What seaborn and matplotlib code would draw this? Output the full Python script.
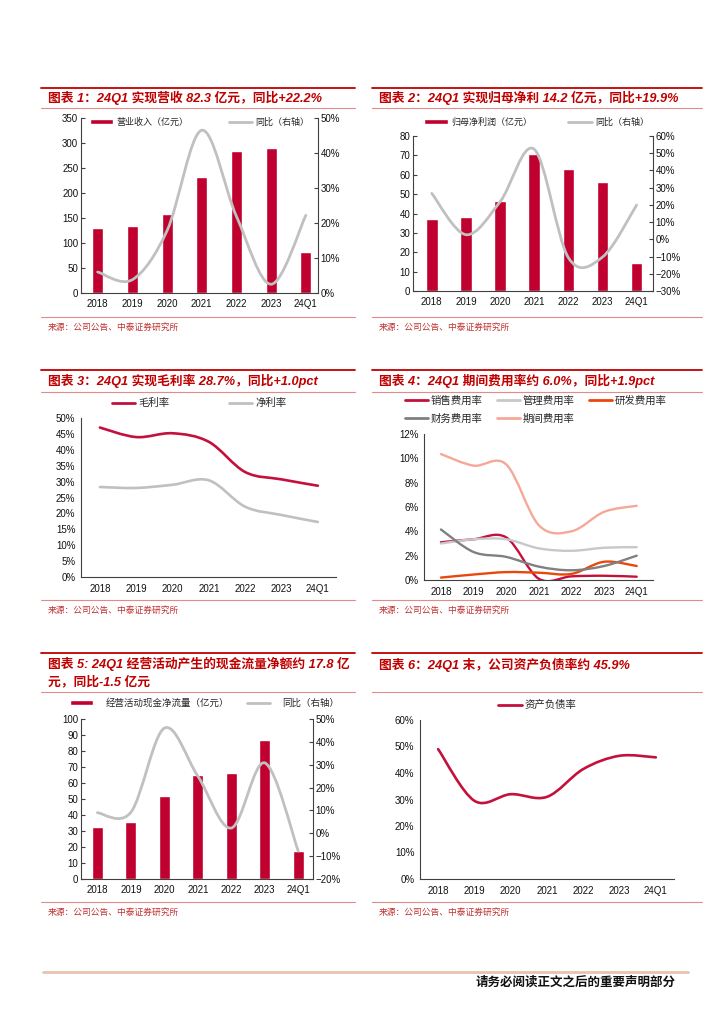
import numpy as np
import pandas as pd
import matplotlib
matplotlib.use("Agg")
import matplotlib.pyplot as plt
import seaborn as sns
from matplotlib.path import Path
from matplotlib.patches import PathPatch, Patch
from matplotlib.lines import Line2D
from matplotlib.ticker import MultipleLocator, FuncFormatter

# ---- data ----
years = ["2018", "2019", "2020", "2021", "2022", "2023", "24Q1"]

revenue = [130, 135, 159, 233, 284, 291, 82.3]
revenue_yoy = [6.0, 3.8, 17.8, 46.5, 21.9, 2.5, 22.2]

net_profit = [37.0, 38.0, 46.3, 70.5, 63.0, 56.5, 14.2]
net_profit_yoy = [26.7, 2.7, 21.8, 52.3, -10.6, -10.3, 19.9]

gross_margin = [47.0, 44.0, 45.2, 42.5, 33.0, 30.7, 28.7]
net_margin = [28.3, 28.0, 29.0, 30.4, 22.1, 19.5, 17.3]

sales_rate = [3.1, 3.35, 3.5, 0.1, 0.3, 0.35, 0.27]
admin_rate = [3.0, 3.35, 3.35, 2.6, 2.4, 2.65, 2.7]
rd_rate = [0.2, 0.45, 0.65, 0.6, 0.5, 1.5, 1.15]
fin_rate = [4.15, 2.3, 1.9, 1.1, 0.8, 1.15, 2.0]
period_rate = [10.35, 9.4, 9.5, 4.5, 4.0, 5.6, 6.1]

op_cashflow = [32.5, 35.5, 52.0, 65.0, 66.5, 87.0, 17.8]
op_cashflow_yoy = [9.0, 9.2, 46.0, 25.0, 2.3, 30.8, -7.8]

debt_ratio = [49.0, 29.5, 32.0, 31.0, 41.5, 46.5, 45.9]

titles = [
    "图表 1：24Q1 实现营收 82.3 亿元，同比+22.2%",
    "图表 2：24Q1 实现归母净利 14.2 亿元，同比+19.9%",
    "图表 3：24Q1 实现毛利率 28.7%，同比+1.0pct",
    "图表 4：24Q1 期间费用率约 6.0%，同比+1.9pct",
    "图表 5: 24Q1 经营活动产生的现金流量净额约 17.8 亿\n元，同比-1.5 亿元",
    "图表 6：24Q1 末，公司资产负债率约 45.9%",
]
source = "来源：公司公告、中泰证券研究所"
footer = "请务必阅读正文之后的重要声明部分"

# ---- style ----
RED = "#C0002E"
TITLE_RED = "#C00000"
GRAY = "#C0C0C0"
LINE_RED = "#C4103C"

sns.set_theme(style="white")
plt.rcParams["font.family"] = ["Liberation Sans", "Noto Sans CJK SC", "DejaVu Sans"]
plt.rcParams["axes.edgecolor"] = "#404040"
plt.rcParams["axes.linewidth"] = 0.8
plt.rcParams["xtick.color"] = "#404040"
plt.rcParams["ytick.color"] = "#404040"
plt.rcParams["xtick.labelcolor"] = "#111111"
plt.rcParams["ytick.labelcolor"] = "#111111"

W, H = 724, 1024
fig = plt.figure(figsize=(W / 100, H / 100), dpi=100)
fig.patch.set_facecolor("white")


def box(l, t, r, b):
    return [l / W, 1 - b / H, (r - l) / W, (b - t) / H]


def hline(x0, x1, y, color, lw):
    fig.add_artist(Line2D([x0 / W, x1 / W], [1 - y / H, 1 - y / H],
                          transform=fig.transFigure, color=color, lw=lw))


def ftext(x, y, s, **kw):
    fig.text(x / W, 1 - y / H, s, **kw)


def smooth(ax, y, color, lw=1.9, zorder=3):
    # excel-style smoothed line through the data points (bezier segments)
    pts = np.column_stack([np.arange(len(y), dtype=float), np.asarray(y, float)])
    ext = np.vstack([pts[0], pts, pts[-1]])
    verts, codes = [pts[0]], [Path.MOVETO]
    for i in range(len(pts) - 1):
        p0, p1, p2, p3 = ext[i], ext[i + 1], ext[i + 2], ext[i + 3]
        verts += [p1 + (p2 - p0) / 6, p2 - (p3 - p1) / 6, p2]
        codes += [Path.CURVE4] * 3
    ax.add_patch(PathPatch(Path(verts, codes), fill=False, edgecolor=color,
                           lw=lw, capstyle="round", zorder=zorder))


def pct(v, _):
    return f"{v:.0f}%".replace("-", "\u2212")


def legend(handles, labels, x, y, hl, pad, colsp, ncol=None, rowsp=0.9, fs=6.5):
    px = fs * 100 / 72
    fig.legend(handles, labels, loc="center left", bbox_to_anchor=(x / W, 1 - y / H),
               ncol=ncol or len(labels), frameon=False, borderaxespad=0, borderpad=0,
               handlelength=hl / px, handletextpad=pad / px, columnspacing=colsp / px,
               handleheight=0.5, labelspacing=rowsp, prop=dict(size=fs))


def panel_frame(x0, x1, top, title_y, lower, src_y):
    hline(x0, x1, top, TITLE_RED, 1.3)
    ftext(x0 + 7, title_y, titles.pop(0), ha="left", va="center", color=TITLE_RED,
          fontsize=9.2, fontweight="bold", style="italic", linespacing=1.45)
    hline(x0, x1, lower, "#E38A8A", 0.8)
    hline(x0, x1, src_y, "#E38A8A", 0.8)
    ftext(x0 + 7, src_y + 10, source, ha="left", va="center", color="#C03030", fontsize=6.3)


def bar_axes(rect, values, yoy, width, ylim, ystep, y2lim, y2step, xlim):
    ax = fig.add_axes(box(*rect))
    df = pd.DataFrame({"year": years, "value": values})
    sns.barplot(data=df, x="year", y="value", color=RED, saturation=1, width=width, ax=ax)
    ax.set_xlabel("")
    ax.set_ylabel("")
    ax.set_xlim(*xlim)
    ax.set_ylim(*ylim)
    ax.yaxis.set_major_locator(MultipleLocator(ystep))
    ax2 = ax.twinx()
    smooth(ax2, yoy, GRAY, lw=2.0)
    ax2.set_xlim(*xlim)
    ax2.set_ylim(*y2lim)
    ax2.yaxis.set_major_locator(MultipleLocator(y2step))
    ax2.yaxis.set_major_formatter(FuncFormatter(pct))
    for a in (ax, ax2):
        a.spines["top"].set_visible(False)
        a.grid(False)
        a.tick_params(axis="y", direction="in", length=3, width=0.8, labelsize=7, pad=2)
        a.tick_params(axis="x", length=0, labelsize=7, pad=4)
    ax.spines["right"].set_visible(False)
    ax2.spines["left"].set_visible(False)
    ax2.spines["bottom"].set_visible(False)
    return ax, ax2


def line_axes(rect, xlim, ylim, ystep):
    ax = fig.add_axes(box(*rect))
    ax.set_xlim(*xlim)
    ax.set_ylim(*ylim)
    ax.set_xticks(range(len(years)))
    ax.set_xticklabels(years)
    ax.set_xticks(np.arange(-0.5, len(years)), minor=True)
    ax.yaxis.set_major_locator(MultipleLocator(ystep))
    ax.yaxis.set_major_formatter(FuncFormatter(pct))
    ax.spines["top"].set_visible(False)
    ax.spines["right"].set_visible(False)
    ax.grid(False)
    ax.tick_params(axis="x", which="major", length=0, labelsize=7, pad=5)
    ax.tick_params(axis="x", which="minor", direction="out", length=3, width=0.8)
    ax.tick_params(axis="y", direction="out", length=2, width=0.8, labelsize=7, pad=2)
    return ax


# ---- panel frames ----
panel_frame(41, 355, 88, 98, 108, 317)
panel_frame(372, 702, 88, 98, 108, 317)
panel_frame(41, 355, 370, 381, 392, 600)
panel_frame(372, 702, 370, 381, 392, 600)
panel_frame(41, 355, 653, 673, 692, 902)
panel_frame(372, 702, 653, 665, 692, 902)

# ---- chart 1: revenue ----
bar_axes((81, 118, 318, 293), revenue, revenue_yoy, 0.32, (0, 350), 50, (0, 50), 10, (-0.48, 6.35))
legend([Patch(facecolor=RED), Line2D([], [], color=GRAY, lw=2)],
       ["营业收入（亿元）", "同比（右轴）"], 90, 122, 23, 3, 41)

# ---- chart 2: net profit ----
bar_axes((413, 136, 653, 291), net_profit, net_profit_yoy, 0.34, (0, 80), 10, (-30, 60), 10, (-0.55, 6.48))
legend([Patch(facecolor=RED), Line2D([], [], color=GRAY, lw=2)],
       ["归母净利润（亿元）", "同比（右轴）"], 424, 122, 24, 3, 36)

# ---- chart 3: margins ----
ax3 = line_axes((81, 418, 336, 577), (-0.52, 6.5), (0, 50), 5)
smooth(ax3, gross_margin, LINE_RED, lw=1.9)
smooth(ax3, net_margin, GRAY, lw=1.9)
legend([Line2D([], [], color=LINE_RED, lw=2), Line2D([], [], color=GRAY, lw=2)],
       ["毛利率", "净利率"], 112, 403, 23, 3, 60, fs=7.5)

# ---- chart 4: expense ratios ----
ax4 = line_axes((424, 434, 653, 580), (-0.52, 6.17), (0, 12), 2)
rate_series = [
    ("销售费用率", sales_rate, LINE_RED),
    ("管理费用率", admin_rate, "#C8C8C8"),
    ("研发费用率", rd_rate, "#E8480C"),
    ("财务费用率", fin_rate, "#808080"),
    ("期间费用率", period_rate, "#F6A898"),
]
for name, vals, col in rate_series:
    smooth(ax4, vals, col, lw=1.7)
# legend fills column by column, so order the entries to read row by row
leg_order = [0, 3, 1, 4, 2]
legend([Line2D([], [], color=rate_series[i][2], lw=2) for i in leg_order],
       [rate_series[i][0] for i in leg_order], 405, 409.5, 23, 3, 14, ncol=3, rowsp=0.75, fs=7.5)

# ---- chart 5: operating cash flow ----
bar_axes((81, 719, 313, 879), op_cashflow, op_cashflow_yoy, 0.33, (0, 100), 10, (-20, 50), 10, (-0.49, 6.44))
legend([Patch(facecolor=RED), Line2D([], [], color=GRAY, lw=2)],
       ["经营活动现金净流量（亿元）", "同比（右轴）"], 70, 703, 23, 13, 17, fs=6.8)

# ---- chart 6: debt ratio ----
ax6 = line_axes((420, 720, 674, 879), (-0.5, 6.5), (0, 60), 10)
smooth(ax6, debt_ratio, LINE_RED, lw=1.9)
legend([Line2D([], [], color=LINE_RED, lw=2)], ["资产负债率"], 498, 705, 24, 3, 10, fs=7.5)

# ---- footer ----
hline(43, 688, 972, "#E9C3AE", 2.0)
ftext(676, 983, footer, ha="right", va="center", fontsize=9, fontweight="bold", color="#111111")

fig.savefig("out.png", dpi=100, facecolor="white")
